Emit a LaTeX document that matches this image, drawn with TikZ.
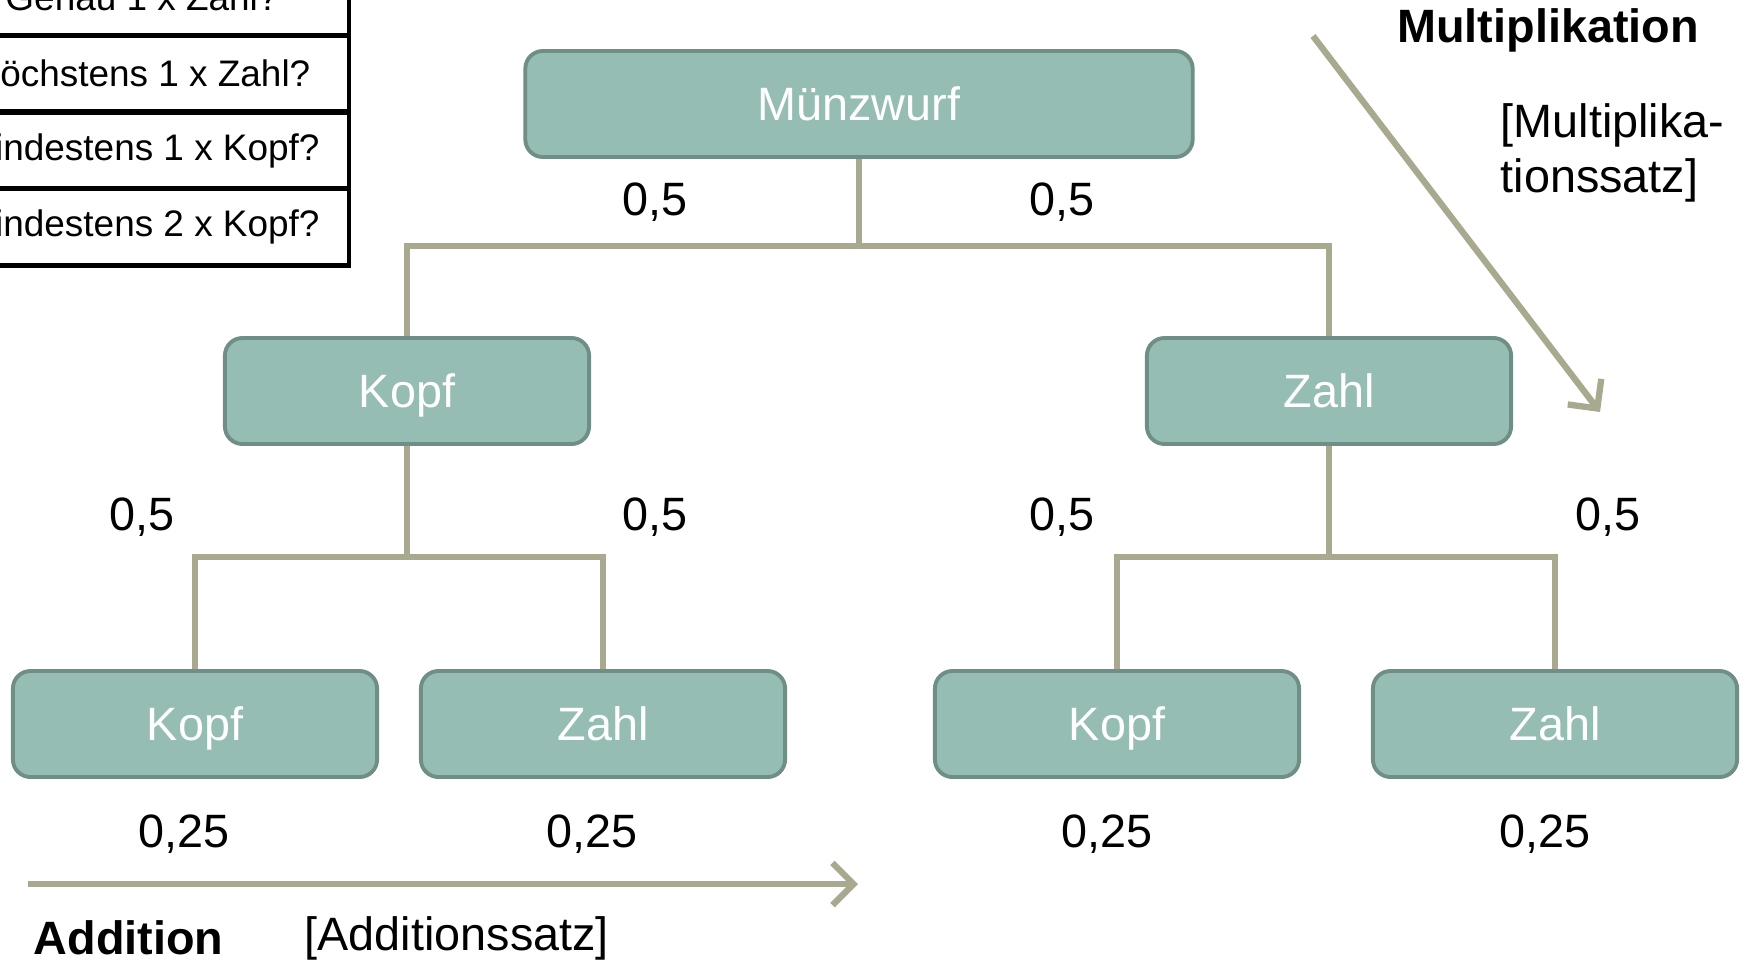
\documentclass[tikz,border=0pt]{standalone}
\usepackage{fontspec}
\setmainfont{Liberation Sans}
\usetikzlibrary{arrows.meta}
\definecolor{boxfill}{HTML}{96BDB3}
\definecolor{boxline}{HTML}{6F8E85}
\definecolor{treeline}{HTML}{A8A98E}

\begin{document}
\begin{tikzpicture}[x=0.01cm, y=-0.01cm,
  every node/.style={font=\fontsize{13.3}{15.6}\selectfont},
  bold/.style={font=\fontsize{13.3}{15.6}\selectfont\bfseries},
  coin/.style={draw=boxline, line width=1.1pt, fill=boxfill, rounded corners=5pt, minimum width=3.64cm, minimum height=1.06cm, text=white, text height=9.6pt, text depth=0.3pt},
  tree/.style={treeline, line width=1.6pt},
  rule/.style={treeline, line width=1.8pt, -{Straight Barb[length=6pt,width=12pt]}},
  cell/.style={draw, line width=1.3pt, fill=white, minimum width=4.14cm, minimum height=0.765cm, font=\fontsize{10.5}{12}\selectfont}]
\clip (0,0) rectangle (1748,963);
% question table, cut at the left edge
\node[cell] (q1) at (142,-3) {Genau 1 x Zahl?};
\node[cell] (q2) at (142,73.5) {Höchstens 1 x Zahl?};
\node[cell] (q3) at (142,150.5) {Mindestens 1 x Kopf?};
\node[cell] (q4) at (142,227) {Mindestens 2 x Kopf?};
% tree
\node[coin, minimum width=6.67cm] (root) at (859,104) {Münzwurf};
\node[coin] (k1) at (407,391) {Kopf};
\node[coin] (z1) at (1329,391) {Zahl};
\node[coin] (kk) at (195,724) {Kopf};
\node[coin] (kz) at (603,724) {Zahl};
\node[coin] (zk) at (1117,724) {Kopf};
\node[coin] (zz) at (1555,724) {Zahl};
\coordinate (j0) at (859,246);
\coordinate (j1) at (407,557);
\coordinate (j2) at (1329,557);
\draw[tree] (root.south) -- (j0) -| (k1.north); \draw[tree] (j0) -| (z1.north);
\draw[tree] (k1.south) -- (j1) -| (kk.north); \draw[tree] (j1) -| (kz.north);
\draw[tree] (z1.south) -- (j2) -| (zk.north); \draw[tree] (j2) -| (zz.north);
% probabilities
\node (p1) at (655,202) {0,5};
\node (p2) at (1062,202) {0,5};
\node (p3) at (142,517) {0,5};
\node (p4) at (655,517) {0,5};
\node (p5) at (1062,517) {0,5};
\node (p6) at (1608,517) {0,5};
\node (e1) at (184,834) {0,25};
\node (e2) at (592,834) {0,25};
\node (e3) at (1107,834) {0,25};
\node (e4) at (1545,834) {0,25};
% rules
\coordinate (a0) at (28,884); \coordinate (a1) at (858,884);
\draw[rule] (a0) -- (a1);
\node[bold, anchor=west, inner sep=0pt] (add) at (33,938) {Addition};
\node[anchor=west, inner sep=0pt] (adds) at (304,938) {[Additionssatz]};
\coordinate (m0) at (1313,36); \coordinate (m1) at (1600,412);
\draw[rule] (m0) -- (m1);
\node[bold, inner sep=0pt] (mul) at (1548,30) {Multiplikation};
\node[anchor=west, align=left, inner sep=0pt] (muls) at (1500,153) {[Multiplika-\\tionssatz]};
\end{tikzpicture}
\end{document}
